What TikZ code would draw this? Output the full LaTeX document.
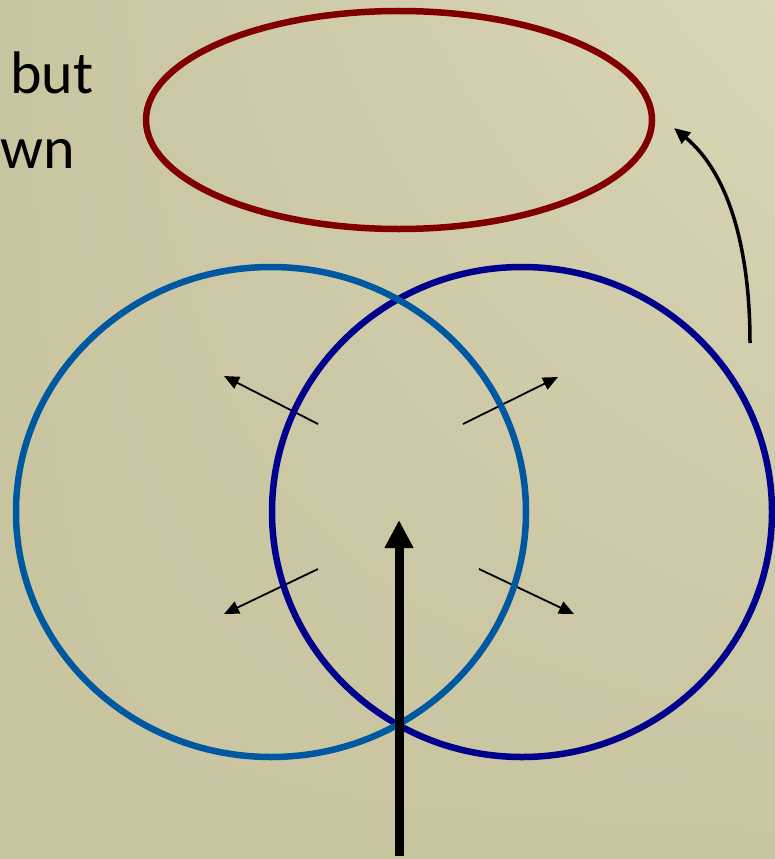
\documentclass[tikz,border=0pt]{standalone}
\usepackage{fontspec}
\setmainfont{Carlito}
\usetikzlibrary{arrows.meta,shadings}
\definecolor{paper}{RGB}{201,197,161}
\definecolor{paperlight}{RGB}{217,213,182}
\definecolor{ringred}{RGB}{128,0,0}
\definecolor{ringblue}{RGB}{0,88,160}
\definecolor{ringnavy}{RGB}{0,0,140}
\tikzset{
  ring/.style={line width=6.5pt},
  push/.style={line width=1.8pt,-{Triangle[length=15pt,width=13pt]}},
  lift/.style={line width=3.5pt,-{Triangle[length=16pt,width=14pt]}},
  thrust/.style={line width=9pt,-{Triangle[length=28pt,width=27pt]}},
  word/.style={anchor=base west,inner sep=0pt,font=\fontsize{60}{72}\selectfont}
}
\begin{document}
\begin{tikzpicture}[x=1pt,y=-1pt]
\useasboundingbox (0,0) rectangle (775,859);
% background
\shade[upper right=paperlight,upper left=paper,lower left=paper,lower right=paper] (0,0) rectangle (775,859);
% clipped caption
\node[word] (but) at (10,93) {but};
\node[word] (wn) at (0,168) {wn};
% outward pushes
\foreach \a/\b/\c/\d in {318/424/224/376, 463/424/558/377, 318/569/224/614, 479/569/574/614}{
  \coordinate (s) at (\a,\b); \coordinate (e) at (\c,\d);
  \draw[push] (s) -- (e);
}
% rings
\draw[ring,ringred] (399,120) ellipse (253 and 109);
\draw[ring,ringnavy] (522,512) ellipse (250 and 245);
\draw[ring,ringblue] (271,512) ellipse (255 and 245);
% lift to the top ring
\coordinate (lift0) at (750,343);
\coordinate (lift1) at (674,128);
\draw[lift] (lift0) .. controls (750,240) and (725,170) .. (lift1);
% upward thrust
\coordinate (thr0) at (399,856);
\coordinate (thr1) at (399,520);
\draw[thrust] (thr0) -- (thr1);
\end{tikzpicture}
\end{document}
